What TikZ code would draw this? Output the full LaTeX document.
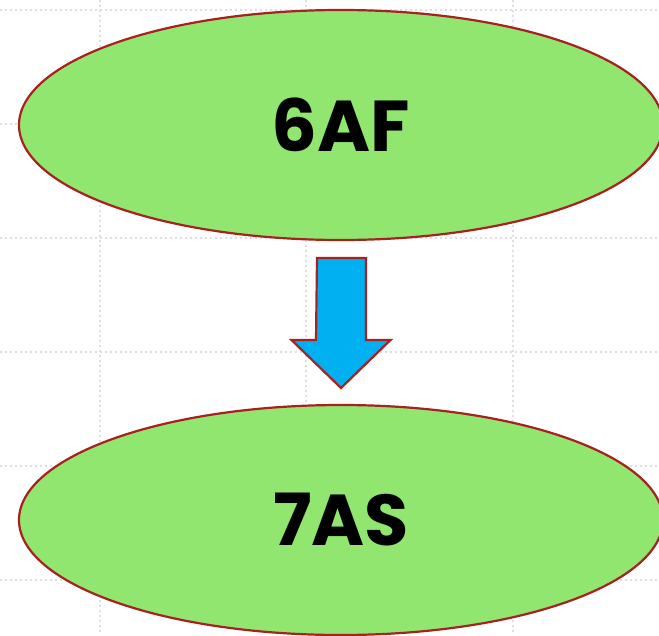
\documentclass[tikz,border=0pt]{standalone}
\usepackage{fontspec}
\setmainfont{Poppins}[BoldFont={Poppins Bold}]
\usetikzlibrary{shapes.geometric}
\definecolor{ovalgreen}{RGB}{144,230,110}
\definecolor{edgered}{RGB}{168,32,32}
\definecolor{arrowblue}{RGB}{0,176,240}
\definecolor{gridgrey}{RGB}{222,222,222}
\tikzset{
  oval/.style={ellipse, draw=edgered, fill=ovalgreen, line width=2.2pt,
    minimum width=644pt, minimum height=230pt, inner sep=0pt,
    font=\fontsize{72}{72}\selectfont\bfseries},
  gridline/.style={gridgrey, line width=2pt, dash pattern=on 2pt off 3pt},
  blockarrow/.style={draw=edgered, fill=arrowblue, line width=2.2pt, line join=miter}
}
\begin{document}
\begin{tikzpicture}[x=1pt,y=-1pt]
\useasboundingbox (0,0) rectangle (659,635);
\clip (0,0) rectangle (659,635);
\foreach \gx in {100,306,513} \draw[gridline] (\gx,0) -- (\gx,635);
\foreach \gy in {10,124,238,352,466,580} \draw[gridline] (0,\gy) -- (659,\gy);
\node[oval] (top) at (341,125) {6AF};
\node[oval] (bottom) at (341,520) {7AS};
\coordinate (arr) at (341.5,258);
\draw[blockarrow] (arr) ++(-24.5,0) -- ++(49,0) -- ++(0,82) -- ++(24.5,0)
  -- ++(-49.5,48) -- ++(-49.5,-48) -- ++(24.5,0) -- cycle;
\end{tikzpicture}
\end{document}
